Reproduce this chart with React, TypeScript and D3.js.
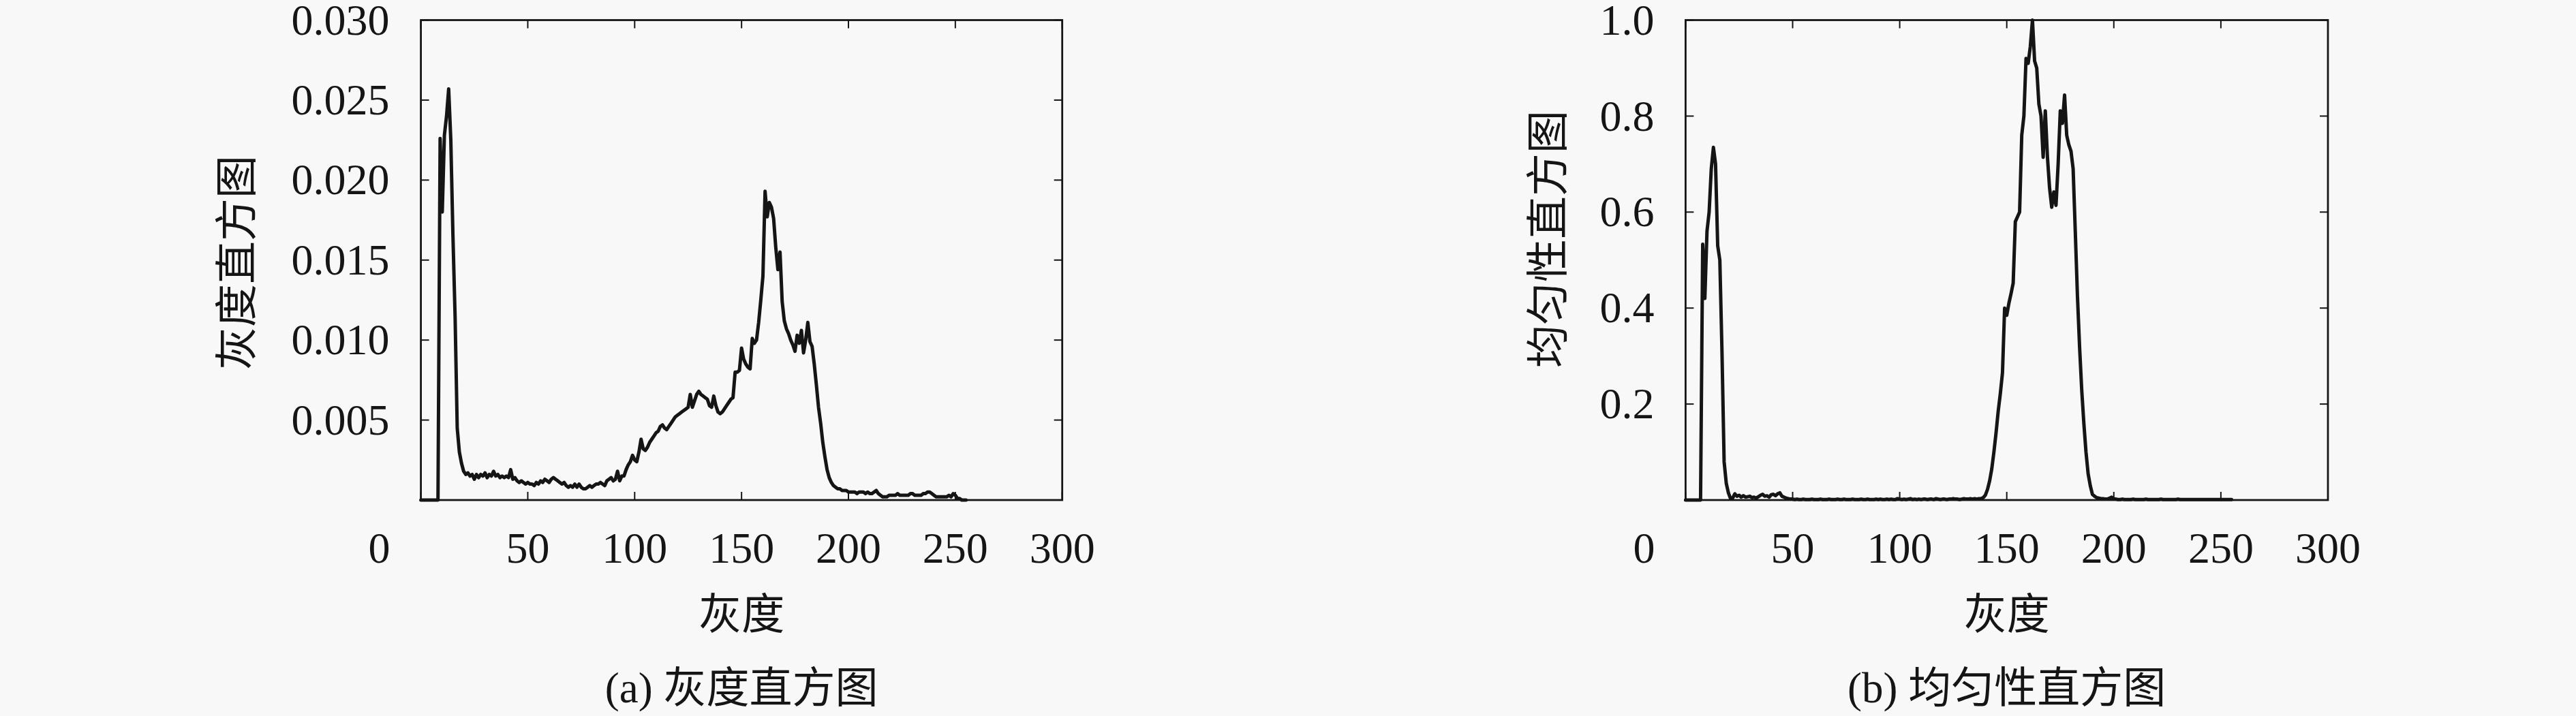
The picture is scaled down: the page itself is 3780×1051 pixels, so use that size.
import React from 'react';
import * as d3 from 'd3';

// ---------- data ----------
const xTicks = [0, 50, 100, 150, 200, 250, 300];
const xTickLabels = ['0', '50', '100', '150', '200', '250', '300'];

const yTicksA = [0.005, 0.01, 0.015, 0.02, 0.025, 0.03];
const yTickLabelsA = ['0.005', '0.010', '0.015', '0.020', '0.025', '0.030'];

const yTicksB = [0.2, 0.4, 0.6, 0.8, 1.0];
const yTickLabelsB = ['0.2', '0.4', '0.6', '0.8', '1.0'];

// gray-level histogram (bins 0..255)
const histA = [
  0, 0, 0, 0, 0, 0, 0, 0,
  0, 0.0226, 0.018, 0.0228, 0.024, 0.0257, 0.0225, 0.0165, 0.0115, 0.0045, 0.003, 0.0023, 0.0018,
  0.0016, 0.0017, 0.0015, 0.0016, 0.0013, 0.0016, 0.0014, 0.0016, 0.0015, 0.0017,
  0.0014, 0.0016, 0.0015, 0.0018, 0.0015, 0.0016, 0.0014, 0.0015, 0.0014, 0.0015,
  0.0014, 0.0019, 0.0013, 0.0014, 0.0012,
  0.0011, 0.0012, 0.0011, 0.001, 0.0011, 0.001, 0.001, 0.0009, 0.0011, 0.001,
  0.0012, 0.0011, 0.0013, 0.0012, 0.0011, 0.0013, 0.0014, 0.0013, 0.0012, 0.0011,
  0.001, 0.0011, 0.0009, 0.0008, 0.0009, 0.0008, 0.001, 0.0008, 0.001, 0.0008,
  0.0007, 0.0007, 0.0008, 0.0009, 0.0008, 0.0009, 0.001, 0.001, 0.0011, 0.001,
  0.0009, 0.0012, 0.0013, 0.0014, 0.0012, 0.0013, 0.0018, 0.0012, 0.0015, 0.0015,
  0.0019, 0.0022, 0.0024, 0.0028, 0.0025, 0.0024, 0.003, 0.0038, 0.0032, 0.0031,
  0.0033, 0.0036, 0.0038, 0.004, 0.0042, 0.0043, 0.0046, 0.0047, 0.0045, 0.0044,
  0.0046, 0.0048, 0.005, 0.0052, 0.0053, 0.0054, 0.0055, 0.0056, 0.0057, 0.0058,
  0.0066, 0.0058, 0.0062, 0.0066, 0.0068, 0.0066, 0.0065, 0.0064, 0.0063, 0.0059,
  0.0058, 0.0065, 0.0059, 0.0055, 0.0054, 0.0055, 0.0057, 0.0059, 0.0061, 0.0063,
  0.0064, 0.008, 0.008, 0.0081, 0.0095, 0.0088, 0.0085, 0.0083, 0.0082, 0.0101,
  0.0098, 0.01, 0.0111, 0.0125, 0.014, 0.0193, 0.0177, 0.0186, 0.0183, 0.0176,
  0.0158, 0.0144, 0.0155, 0.0124, 0.0112, 0.0107, 0.0104, 0.01, 0.0097, 0.0093,
  0.0103, 0.0098, 0.0106, 0.0092, 0.01, 0.0111, 0.0099, 0.0096, 0.0085, 0.0072,
  0.0058, 0.0048, 0.0036, 0.0027, 0.0019, 0.0014, 0.0011, 0.0009, 0.0008, 0.0007,
  0.0007, 0.0006, 0.0006, 0.0006, 0.0005, 0.0005, 0.0005, 0.0005, 0.0004, 0.0005,
  0.0005, 0.0005, 0.0004, 0.0005, 0.0004, 0.0004, 0.0005, 0.0006, 0.0004, 0.0003,
  0.0002, 0.0002, 0.0002, 0.0003, 0.0003, 0.0003, 0.0003, 0.0004, 0.0003, 0.0003,
  0.0003, 0.0003, 0.0003, 0.0004, 0.0004, 0.0003, 0.0003, 0.0003, 0.0003, 0.0004,
  0.0004, 0.0005, 0.0005, 0.0004, 0.0003, 0.0002, 0.0002, 0.0002, 0.0002, 0.0002,
  0.0002, 0.0003, 0.0002, 0.0004, 0.0003, 0.0001, 0.0001, 0.0, 0.0, 0.0,
];

// homogeneity histogram (bins 0..255)
const histB = [
  0, 0, 0, 0, 0, 0, 0, 0,
  0.533, 0.42, 0.56, 0.6, 0.69, 0.735, 0.7, 0.53, 0.5, 0.31, 0.08, 0.035, 0.015, 0.003,
  0.004, 0.013, 0.008, 0.01, 0.006, 0.009, 0.006, 0.007, 0.008, 0.005,
  0.006, 0.004, 0.007, 0.01, 0.012, 0.008, 0.009, 0.006, 0.011, 0.012,
  0.009, 0.013, 0.015, 0.008, 0.006, 0.004, 0.003, 0.002, 0.002, 0.001,
  0.002, 0.001, 0.001, 0.002, 0.001, 0.001, 0.001, 0.002, 0.001, 0.001,
  0.001, 0.002, 0.001, 0.001, 0.001, 0.002, 0.001, 0.001, 0.001, 0.002,
  0.001, 0.001, 0.002, 0.001, 0.001, 0.001, 0.002, 0.001, 0.001, 0.001,
  0.002, 0.001, 0.001, 0.002, 0.001, 0.001, 0.001, 0.002, 0.001, 0.002,
  0.001, 0.001, 0.002, 0.001, 0.002, 0.001, 0.001, 0.003, 0.002, 0.001,
  0.002, 0.001, 0.002, 0.003, 0.001, 0.002, 0.001, 0.002, 0.001, 0.002,
  0.002, 0.001, 0.002, 0.002, 0.001, 0.003, 0.002, 0.001, 0.002, 0.002,
  0.001, 0.002, 0.002, 0.003, 0.002, 0.002, 0.001, 0.002, 0.003, 0.002,
  0.002, 0.003, 0.002, 0.003, 0.002, 0.003, 0.003, 0.005, 0.01, 0.022,
  0.04, 0.065, 0.1, 0.14, 0.185, 0.222, 0.265, 0.4, 0.385, 0.41,
  0.43, 0.452, 0.58, 0.59, 0.6, 0.76, 0.8, 0.92, 0.91, 0.945,
  1.0, 0.915, 0.9, 0.825, 0.8, 0.714, 0.811, 0.715, 0.65, 0.61,
  0.642, 0.614, 0.7, 0.811, 0.785, 0.844, 0.76, 0.74, 0.727, 0.69,
  0.56, 0.427, 0.32, 0.23, 0.16, 0.1, 0.055, 0.03, 0.012, 0.008,
  0.005, 0.004, 0.003, 0.003, 0.002, 0.002, 0.004, 0.006, 0.002, 0.002,
  0.001, 0.001, 0.002, 0.001, 0.001, 0.001, 0.001, 0.002, 0.001, 0.001,
  0.001, 0.001, 0.001, 0.002, 0.001, 0.001, 0.001, 0.001, 0.001, 0.001,
  0.002, 0.001, 0.001, 0.001, 0.001, 0.001, 0.001, 0.001, 0.002, 0.001,
  0.001, 0.001, 0.001, 0.001, 0.001, 0.001, 0.001, 0.001, 0.001, 0.001,
  0.001, 0.001, 0.001, 0.001, 0.001, 0.001, 0.001, 0.001, 0.001, 0.001,
  0.001, 0.001, 0.001, 0.001,
];

// ---------- drawing ----------
const W = 3780;
const H = 1051;
const TOP = 29.5;
const BOTTOM = 734;
const NUM_FONT = '"Liberation Serif", "Times New Roman", serif';
const CJK_FONT = '"Liberation Serif", "Noto Sans CJK SC", serif';
const INK = '#151515';

type PanelProps = {
  left: number;
  right: number;
  values: number[];
  yMax: number;
  yTicks: number[];
  yTickLabels: string[];
  yLabel: string;
  yLabelX: number;
  yLabelStart: number;
  caption: string;
};

function Panel(p: PanelProps) {
  const x = d3.scaleLinear().domain([0, 300]).range([p.left, p.right]);
  const y = d3.scaleLinear().domain([0, p.yMax]).range([BOTTOM, TOP]);
  const line = d3
    .line<number>()
    .x((_, i) => x(i))
    .y((v) => y(v));
  const tl = 12;
  const cx = (p.left + p.right) / 2;
  return (
    <g>
      {xTicks.map((t, i) => (
        <g key={'xt' + i}>
          <line x1={x(t)} x2={x(t)} y1={BOTTOM} y2={BOTTOM - tl} stroke={INK} strokeWidth={2} />
          <line x1={x(t)} x2={x(t)} y1={TOP} y2={TOP + tl} stroke={INK} strokeWidth={2} />
          <text
            x={t === 0 ? x(t) - 61 : x(t)}
            y={826}
            textAnchor="middle"
            fontFamily={NUM_FONT}
            fontSize={64}
            fill={INK}
          >
            {xTickLabels[i]}
          </text>
        </g>
      ))}
      {p.yTicks.map((t, i) => (
        <g key={'yt' + i}>
          <line x1={p.left} x2={p.left + tl} y1={y(t)} y2={y(t)} stroke={INK} strokeWidth={2} />
          <line x1={p.right} x2={p.right - tl} y1={y(t)} y2={y(t)} stroke={INK} strokeWidth={2} />
          <text
            x={p.left - 46}
            y={y(t)}
            dy="0.33em"
            textAnchor="end"
            fontFamily={NUM_FONT}
            fontSize={64}
            fill={INK}
          >
            {p.yTickLabels[i]}
          </text>
        </g>
      ))}
      <path
        d={line(p.values) || ''}
        fill="none"
        stroke={INK}
        strokeWidth={5}
        strokeLinejoin="round"
        strokeLinecap="round"
      />
      <rect
        x={p.left}
        y={TOP}
        width={p.right - p.left}
        height={BOTTOM - TOP}
        fill="none"
        stroke={INK}
        strokeWidth={2.8}
      />
      <text
        transform={`translate(${p.yLabelX},${p.yLabelStart}) rotate(-90)`}
        textAnchor="start"
        dominantBaseline="central"
        fontFamily={CJK_FONT}
        fontSize={63}
        fill={INK}
      >
        {p.yLabel}
      </text>
      <text
        x={cx}
        y={902}
        textAnchor="middle"
        dominantBaseline="central"
        fontFamily={CJK_FONT}
        fontSize={63}
        fill={INK}
      >
        灰度
      </text>
      <text
        x={cx}
        y={1010}
        textAnchor="middle"
        dominantBaseline="central"
        fontFamily={CJK_FONT}
        fontSize={63}
        fill={INK}
      >
        {p.caption}
      </text>
    </g>
  );
}

export default function App() {
  return (
    <svg
      width={W}
      height={H}
      viewBox={`0 0 ${W} ${H}`}
      style={{ position: 'absolute', left: 0, top: 0, display: 'block' }}
    >
      <rect x={0} y={0} width={W} height={H} fill="#f8f8f8" />
      <Panel
        left={617.6}
        right={1558.7}
        values={histA}
        yMax={0.03}
        yTicks={yTicksA}
        yTickLabels={yTickLabelsA}
        yLabel="灰度直方图"
        yLabelX={348}
        yLabelStart={543}
        caption="(a) 灰度直方图"
      />
      <Panel
        left={2473.4}
        right={3416}
        values={histB}
        yMax={1.0}
        yTicks={yTicksB}
        yTickLabels={yTickLabelsB}
        yLabel="均匀性直方图"
        yLabelX={2272}
        yLabelStart={540}
        caption="(b) 均匀性直方图"
      />
    </svg>
  );
}
